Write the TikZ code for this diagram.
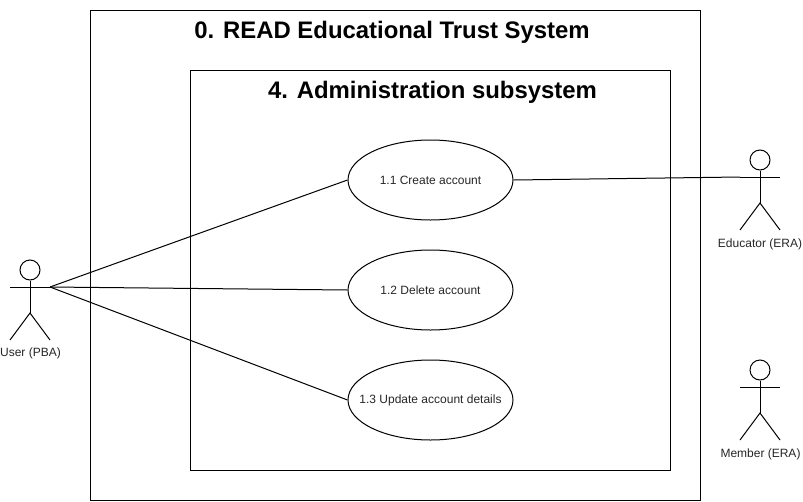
\documentclass[tikz,border=0pt]{standalone}
\usepackage{fontspec}
\setmainfont{Liberation Sans}
\usetikzlibrary{shapes}
\tikzset{every path/.style={line width=1pt}}
\tikzset{box/.style={rectangle,draw,inner sep=0pt}}
\tikzset{usecase/.style={ellipse,draw,minimum width=165pt,minimum height=80pt,inner ysep=0pt,inner xsep=-15pt,text=black!85,font=\fontsize{12}{14}\selectfont}}
\tikzset{lbl/.style={inner sep=0pt,text=black!85,font=\fontsize{12}{14}\selectfont}}
\tikzset{ttl/.style={inner sep=0pt,font=\fontsize{23.9}{28}\selectfont\bfseries}}
\tikzset{head/.style={circle,draw,minimum size=20pt,inner sep=0pt}}
\newcommand{\stickman}[3]{
\node[head](#3head) at (#1,#2) {};
\coordinate (#3left) at (#1-20,#2+17);
\coordinate (#3right) at (#1+20,#2+17);
\coordinate (#3hip) at (#1,#2+43);
\draw (#3head) -- (#3hip);
\draw (#3left) -- (#3right);
\draw (#1-20,#2+70) -- (#3hip) -- (#1+20,#2+70);
}
\begin{document}
\begin{tikzpicture}[x=1pt,y=-1pt]
\useasboundingbox (0,0) rectangle (803,501);
\node[box,minimum width=610pt,minimum height=490pt](system) at (395,255) {};
\node[box,minimum width=480pt,minimum height=400pt](subsystem) at (430,270) {};
\node[ttl](systitle) at (392,32) {0. READ Educational Trust System};
\node[ttl](subtitle) at (432.5,92) {4. Administration subsystem};

\node[usecase](create) at (430.5,180) {1.1 Create account};
\node[usecase](delete) at (430.5,290) {1.2 Delete account};
\node[usecase](update) at (430.5,400) {1.3 Update account details};

\stickman{30}{270}{user}
\stickman{760}{160}{educator}
\stickman{760}{370}{member}
\node[lbl](userlbl) at (30.5,353.5) {User (PBA)};
\node[lbl](educatorlbl) at (760,244.5) {Educator (ERA)};
\node[lbl](memberlbl) at (760.5,454.5) {Member (ERA)};

\draw (userright) -- (create.west);
\draw (userright) -- (delete.west);
\draw (userright) -- (update.west);
\draw (create.east) -- (educatorleft);
\end{tikzpicture}
\end{document}
